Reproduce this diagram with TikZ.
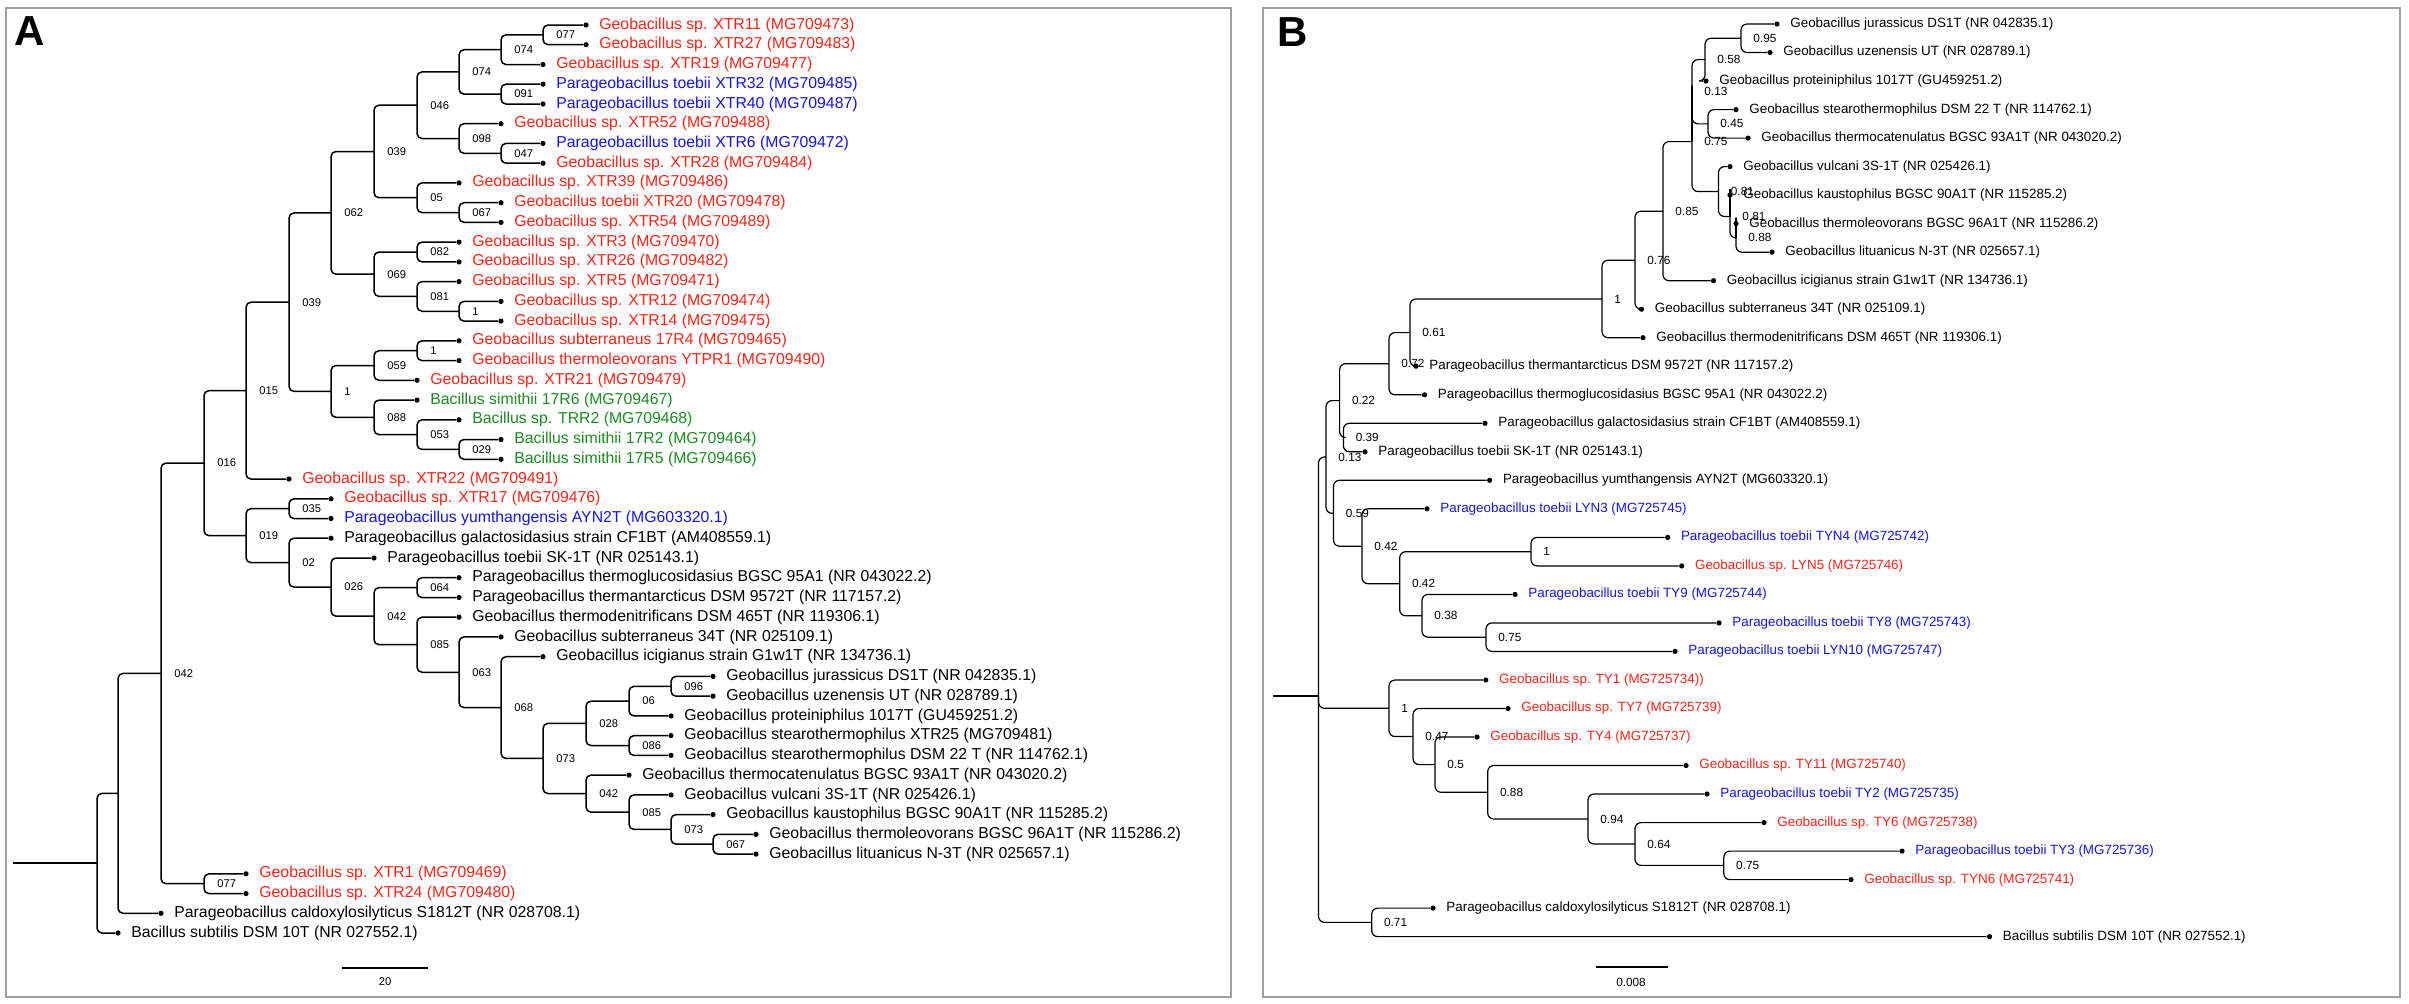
\documentclass[tikz,border=0pt]{standalone}
\usepackage{fontspec}
\setmainfont{Liberation Sans}
\usetikzlibrary{positioning}

\definecolor{geored}{RGB}{255,35,20}
\definecolor{geoblue}{RGB}{20,20,235}
\definecolor{geogreen}{RGB}{25,140,30}

\begin{document}
\begin{tikzpicture}[x=0.5pt, y=-0.5pt,
  frame/.style={draw=gray!75, line width=0.9pt},
  panel/.style={font=\fontsize{21pt}{22pt}\selectfont\bfseries, inner sep=0pt},
  dot/.style={circle, fill=black, inner sep=0pt, minimum size=2.6pt},
  branchA/.style={line width=0.75pt, rounded corners=2.5pt},
  branchB/.style={line width=0.6pt, rounded corners=3pt},
  tipA/.style={font=\fontsize{7.9pt}{9pt}\selectfont, inner sep=0pt},
  supA/.style={font=\fontsize{5.6pt}{6pt}\selectfont, inner sep=0pt},
  tipB/.style={font=\fontsize{6.7pt}{8pt}\selectfont, inner sep=0pt},
  supB/.style={font=\fontsize{5.9pt}{7pt}\selectfont, inner sep=0pt}]
\useasboundingbox (0,0) rectangle (2409,1003);

% Frames and panel letters
\draw[frame] (6,8) rectangle (1231,997);
\draw[frame] (1263,8) rectangle (2400,997);
\node[panel] (lblA) at (30,31) {A};
\node[panel] (lblB) at (1293,32) {B};

% ---------------- Panel A: tips ----------------
\node[dot] (a01) at (586,25.0) {};
\node[tipA, right=5pt of a01, text=geored] (ta01) {Geobacillus sp. XTR11 (MG709473)};
\node[dot] (a02) at (586,44.7) {};
\node[tipA, right=5pt of a02, text=geored] (ta02) {Geobacillus sp. XTR27 (MG709483)};
\node[dot] (a03) at (543,64.5) {};
\node[tipA, right=5pt of a03, text=geored] (ta03) {Geobacillus sp. XTR19 (MG709477)};
\node[dot] (a04) at (543,84.2) {};
\node[tipA, right=5pt of a04, text=geoblue] (ta04) {Parageobacillus toebii XTR32 (MG709485)};
\node[dot] (a05) at (543,104.0) {};
\node[tipA, right=5pt of a05, text=geoblue] (ta05) {Parageobacillus toebii XTR40 (MG709487)};
\node[dot] (a06) at (501,123.7) {};
\node[tipA, right=5pt of a06, text=geored] (ta06) {Geobacillus sp. XTR52 (MG709488)};
\node[dot] (a07) at (543,143.4) {};
\node[tipA, right=5pt of a07, text=geoblue] (ta07) {Parageobacillus toebii XTR6 (MG709472)};
\node[dot] (a08) at (543,163.2) {};
\node[tipA, right=5pt of a08, text=geored] (ta08) {Geobacillus sp. XTR28 (MG709484)};
\node[dot] (a09) at (459,182.9) {};
\node[tipA, right=5pt of a09, text=geored] (ta09) {Geobacillus sp. XTR39 (MG709486)};
\node[dot] (a10) at (501,202.7) {};
\node[tipA, right=5pt of a10, text=geored] (ta10) {Geobacillus toebii XTR20 (MG709478)};
\node[dot] (a11) at (501,222.4) {};
\node[tipA, right=5pt of a11, text=geored] (ta11) {Geobacillus sp. XTR54 (MG709489)};
\node[dot] (a12) at (459,242.1) {};
\node[tipA, right=5pt of a12, text=geored] (ta12) {Geobacillus sp. XTR3 (MG709470)};
\node[dot] (a13) at (459,261.9) {};
\node[tipA, right=5pt of a13, text=geored] (ta13) {Geobacillus sp. XTR26 (MG709482)};
\node[dot] (a14) at (459,281.6) {};
\node[tipA, right=5pt of a14, text=geored] (ta14) {Geobacillus sp. XTR5 (MG709471)};
\node[dot] (a15) at (501,301.4) {};
\node[tipA, right=5pt of a15, text=geored] (ta15) {Geobacillus sp. XTR12 (MG709474)};
\node[dot] (a16) at (501,321.1) {};
\node[tipA, right=5pt of a16, text=geored] (ta16) {Geobacillus sp. XTR14 (MG709475)};
\node[dot] (a17) at (459,340.8) {};
\node[tipA, right=5pt of a17, text=geored] (ta17) {Geobacillus subterraneus 17R4 (MG709465)};
\node[dot] (a18) at (459,360.6) {};
\node[tipA, right=5pt of a18, text=geored] (ta18) {Geobacillus thermoleovorans YTPR1 (MG709490)};
\node[dot] (a19) at (417,380.3) {};
\node[tipA, right=5pt of a19, text=geored] (ta19) {Geobacillus sp. XTR21 (MG709479)};
\node[dot] (a20) at (417,400.1) {};
\node[tipA, right=5pt of a20, text=geogreen] (ta20) {Bacillus simithii 17R6 (MG709467)};
\node[dot] (a21) at (459,419.8) {};
\node[tipA, right=5pt of a21, text=geogreen] (ta21) {Bacillus sp. TRR2 (MG709468)};
\node[dot] (a22) at (501,439.5) {};
\node[tipA, right=5pt of a22, text=geogreen] (ta22) {Bacillus simithii 17R2 (MG709464)};
\node[dot] (a23) at (501,459.3) {};
\node[tipA, right=5pt of a23, text=geogreen] (ta23) {Bacillus simithii 17R5 (MG709466)};
\node[dot] (a24) at (289,479.0) {};
\node[tipA, right=5pt of a24, text=geored] (ta24) {Geobacillus sp. XTR22 (MG709491)};
\node[dot] (a25) at (331,498.8) {};
\node[tipA, right=5pt of a25, text=geored] (ta25) {Geobacillus sp. XTR17 (MG709476)};
\node[dot] (a26) at (331,518.5) {};
\node[tipA, right=5pt of a26, text=geoblue] (ta26) {Parageobacillus yumthangensis AYN2T (MG603320.1)};
\node[dot] (a27) at (331,538.2) {};
\node[tipA, right=5pt of a27] (ta27) {Parageobacillus galactosidasius strain CF1BT (AM408559.1)};
\node[dot] (a28) at (374,558.0) {};
\node[tipA, right=5pt of a28] (ta28) {Parageobacillus toebii SK-1T (NR 025143.1)};
\node[dot] (a29) at (459,577.7) {};
\node[tipA, right=5pt of a29] (ta29) {Parageobacillus thermoglucosidasius BGSC 95A1 (NR 043022.2)};
\node[dot] (a30) at (459,597.5) {};
\node[tipA, right=5pt of a30] (ta30) {Parageobacillus thermantarcticus DSM 9572T (NR 117157.2)};
\node[dot] (a31) at (459,617.2) {};
\node[tipA, right=5pt of a31] (ta31) {Geobacillus thermodenitrificans DSM 465T (NR 119306.1)};
\node[dot] (a32) at (501,636.9) {};
\node[tipA, right=5pt of a32] (ta32) {Geobacillus subterraneus 34T (NR 025109.1)};
\node[dot] (a33) at (543,656.7) {};
\node[tipA, right=5pt of a33] (ta33) {Geobacillus icigianus strain G1w1T (NR 134736.1)};
\node[dot] (a34) at (713,676.4) {};
\node[tipA, right=5pt of a34] (ta34) {Geobacillus jurassicus DS1T (NR 042835.1)};
\node[dot] (a35) at (713,696.2) {};
\node[tipA, right=5pt of a35] (ta35) {Geobacillus uzenensis UT (NR 028789.1)};
\node[dot] (a36) at (671,715.9) {};
\node[tipA, right=5pt of a36] (ta36) {Geobacillus proteiniphilus 1017T (GU459251.2)};
\node[dot] (a37) at (671,735.6) {};
\node[tipA, right=5pt of a37] (ta37) {Geobacillus stearothermophilus XTR25 (MG709481)};
\node[dot] (a38) at (671,755.4) {};
\node[tipA, right=5pt of a38] (ta38) {Geobacillus stearothermophilus DSM 22 T (NR 114762.1)};
\node[dot] (a39) at (629,775.1) {};
\node[tipA, right=5pt of a39] (ta39) {Geobacillus thermocatenulatus BGSC 93A1T (NR 043020.2)};
\node[dot] (a40) at (671,794.9) {};
\node[tipA, right=5pt of a40] (ta40) {Geobacillus vulcani 3S-1T (NR 025426.1)};
\node[dot] (a41) at (713,814.6) {};
\node[tipA, right=5pt of a41] (ta41) {Geobacillus kaustophilus BGSC 90A1T (NR 115285.2)};
\node[dot] (a42) at (756,834.3) {};
\node[tipA, right=5pt of a42] (ta42) {Geobacillus thermoleovorans BGSC 96A1T (NR 115286.2)};
\node[dot] (a43) at (756,854.1) {};
\node[tipA, right=5pt of a43] (ta43) {Geobacillus lituanicus N-3T (NR 025657.1)};
\node[dot] (a44) at (246,873.8) {};
\node[tipA, right=5pt of a44, text=geored] (ta44) {Geobacillus sp. XTR1 (MG709469)};
\node[dot] (a45) at (246,893.6) {};
\node[tipA, right=5pt of a45, text=geored] (ta45) {Geobacillus sp. XTR24 (MG709480)};
\node[dot] (a46) at (161,913.3) {};
\node[tipA, right=5pt of a46] (ta46) {Parageobacillus caldoxylosilyticus S1812T (NR 028708.1)};
\node[dot] (a47) at (118,933.0) {};
\node[tipA, right=5pt of a47] (ta47) {Bacillus subtilis DSM 10T (NR 027552.1)};

% ---------------- Panel A: inner nodes ----------------
\coordinate (a077a) at (543,34.85);
\coordinate (a074a) at (501,49.7);
\coordinate (a091) at (501,94.1);
\coordinate (a074b) at (459,71.9);
\coordinate (a047) at (501,153.3);
\coordinate (a098) at (459,138.5);
\coordinate (a046) at (417,105.2);
\coordinate (a067a) at (459,212.55);
\coordinate (a050) at (417,197.7);
\coordinate (a039a) at (374,151.5);
\coordinate (a082) at (417,252.0);
\coordinate (a1a) at (459,311.25);
\coordinate (a081) at (417,296.4);
\coordinate (a069) at (374,274.2);
\coordinate (a062) at (331,212.9);
\coordinate (a1b) at (417,350.7);
\coordinate (a059) at (374,365.5);
\coordinate (a029) at (459,449.4);
\coordinate (a053) at (417,434.6);
\coordinate (a088) at (374,417.35);
\coordinate (a1c) at (331,391.4);
\coordinate (a039b) at (289,302.2);
\coordinate (a015) at (246,390.6);
\coordinate (a035) at (289,508.65);
\coordinate (a064) at (417,587.6);
\coordinate (a096) at (671,686.3);
\coordinate (a060) at (629,701.1);
\coordinate (a086) at (629,745.5);
\coordinate (a028) at (586,723.3);
\coordinate (a067b) at (713,844.2);
\coordinate (a073a) at (671,829.4);
\coordinate (a085a) at (629,812.15);
\coordinate (a042a) at (586,793.6);
\coordinate (a073b) at (543,758.45);
\coordinate (a068) at (501,707.6);
\coordinate (a063) at (459,672.25);
\coordinate (a085b) at (417,644.7);
\coordinate (a042b) at (374,616.15);
\coordinate (a026) at (331,587.1);
\coordinate (a020) at (289,562.65);
\coordinate (a019) at (246,535.65);
\coordinate (a016) at (204,463.1);
\coordinate (a077b) at (204,883.7);
\coordinate (a042c) at (161,673.4);
\coordinate (aN) at (118,793.35);
\coordinate (aroot) at (97,863.2);
\coordinate (astem) at (13,863.2);

% support values
\node[supA, right=6.5pt of a077a] (sa077a) {077};
\node[supA, right=6.5pt of a074a] (sa074a) {074};
\node[supA, right=6.5pt of a091] (sa091) {091};
\node[supA, right=6.5pt of a074b] (sa074b) {074};
\node[supA, right=6.5pt of a047] (sa047) {047};
\node[supA, right=6.5pt of a098] (sa098) {098};
\node[supA, right=6.5pt of a046] (sa046) {046};
\node[supA, right=6.5pt of a067a] (sa067a) {067};
\node[supA, right=6.5pt of a050] (sa050) {05};
\node[supA, right=6.5pt of a039a] (sa039a) {039};
\node[supA, right=6.5pt of a082] (sa082) {082};
\node[supA, right=6.5pt of a1a] (sa1a) {1};
\node[supA, right=6.5pt of a081] (sa081) {081};
\node[supA, right=6.5pt of a069] (sa069) {069};
\node[supA, right=6.5pt of a062] (sa062) {062};
\node[supA, right=6.5pt of a1b] (sa1b) {1};
\node[supA, right=6.5pt of a059] (sa059) {059};
\node[supA, right=6.5pt of a029] (sa029) {029};
\node[supA, right=6.5pt of a053] (sa053) {053};
\node[supA, right=6.5pt of a088] (sa088) {088};
\node[supA, right=6.5pt of a1c] (sa1c) {1};
\node[supA, right=6.5pt of a039b] (sa039b) {039};
\node[supA, right=6.5pt of a015] (sa015) {015};
\node[supA, right=6.5pt of a035] (sa035) {035};
\node[supA, right=6.5pt of a064] (sa064) {064};
\node[supA, right=6.5pt of a096] (sa096) {096};
\node[supA, right=6.5pt of a060] (sa060) {06};
\node[supA, right=6.5pt of a086] (sa086) {086};
\node[supA, right=6.5pt of a028] (sa028) {028};
\node[supA, right=6.5pt of a067b] (sa067b) {067};
\node[supA, right=6.5pt of a073a] (sa073a) {073};
\node[supA, right=6.5pt of a085a] (sa085a) {085};
\node[supA, right=6.5pt of a042a] (sa042a) {042};
\node[supA, right=6.5pt of a073b] (sa073b) {073};
\node[supA, right=6.5pt of a068] (sa068) {068};
\node[supA, right=6.5pt of a063] (sa063) {063};
\node[supA, right=6.5pt of a085b] (sa085b) {085};
\node[supA, right=6.5pt of a042b] (sa042b) {042};
\node[supA, right=6.5pt of a026] (sa026) {026};
\node[supA, right=6.5pt of a020] (sa020) {02};
\node[supA, right=6.5pt of a019] (sa019) {019};
\node[supA, right=6.5pt of a016] (sa016) {016};
\node[supA, right=6.5pt of a077b] (sa077b) {077};
\node[supA, right=6.5pt of a042c] (sa042c) {042};

% branches
\draw[branchA] (a077a) |- (a01); \draw[branchA] (a077a) |- (a02);
\draw[branchA] (a074a) |- (a077a); \draw[branchA] (a074a) |- (a03);
\draw[branchA] (a091) |- (a04); \draw[branchA] (a091) |- (a05);
\draw[branchA] (a074b) |- (a074a); \draw[branchA] (a074b) |- (a091);
\draw[branchA] (a047) |- (a07); \draw[branchA] (a047) |- (a08);
\draw[branchA] (a098) |- (a06); \draw[branchA] (a098) |- (a047);
\draw[branchA] (a046) |- (a074b); \draw[branchA] (a046) |- (a098);
\draw[branchA] (a067a) |- (a10); \draw[branchA] (a067a) |- (a11);
\draw[branchA] (a050) |- (a09); \draw[branchA] (a050) |- (a067a);
\draw[branchA] (a039a) |- (a046); \draw[branchA] (a039a) |- (a050);
\draw[branchA] (a082) |- (a12); \draw[branchA] (a082) |- (a13);
\draw[branchA] (a1a) |- (a15); \draw[branchA] (a1a) |- (a16);
\draw[branchA] (a081) |- (a14); \draw[branchA] (a081) |- (a1a);
\draw[branchA] (a069) |- (a082); \draw[branchA] (a069) |- (a081);
\draw[branchA] (a062) |- (a039a); \draw[branchA] (a062) |- (a069);
\draw[branchA] (a1b) |- (a17); \draw[branchA] (a1b) |- (a18);
\draw[branchA] (a059) |- (a1b); \draw[branchA] (a059) |- (a19);
\draw[branchA] (a029) |- (a22); \draw[branchA] (a029) |- (a23);
\draw[branchA] (a053) |- (a21); \draw[branchA] (a053) |- (a029);
\draw[branchA] (a088) |- (a20); \draw[branchA] (a088) |- (a053);
\draw[branchA] (a1c) |- (a059); \draw[branchA] (a1c) |- (a088);
\draw[branchA] (a039b) |- (a062); \draw[branchA] (a039b) |- (a1c);
\draw[branchA] (a015) |- (a039b); \draw[branchA] (a015) |- (a24);
\draw[branchA] (a035) |- (a25); \draw[branchA] (a035) |- (a26);
\draw[branchA] (a064) |- (a29); \draw[branchA] (a064) |- (a30);
\draw[branchA] (a096) |- (a34); \draw[branchA] (a096) |- (a35);
\draw[branchA] (a060) |- (a096); \draw[branchA] (a060) |- (a36);
\draw[branchA] (a086) |- (a37); \draw[branchA] (a086) |- (a38);
\draw[branchA] (a028) |- (a060); \draw[branchA] (a028) |- (a086);
\draw[branchA] (a067b) |- (a42); \draw[branchA] (a067b) |- (a43);
\draw[branchA] (a073a) |- (a41); \draw[branchA] (a073a) |- (a067b);
\draw[branchA] (a085a) |- (a40); \draw[branchA] (a085a) |- (a073a);
\draw[branchA] (a042a) |- (a39); \draw[branchA] (a042a) |- (a085a);
\draw[branchA] (a073b) |- (a028); \draw[branchA] (a073b) |- (a042a);
\draw[branchA] (a068) |- (a33); \draw[branchA] (a068) |- (a073b);
\draw[branchA] (a063) |- (a32); \draw[branchA] (a063) |- (a068);
\draw[branchA] (a085b) |- (a31); \draw[branchA] (a085b) |- (a063);
\draw[branchA] (a042b) |- (a064); \draw[branchA] (a042b) |- (a085b);
\draw[branchA] (a026) |- (a28); \draw[branchA] (a026) |- (a042b);
\draw[branchA] (a020) |- (a27); \draw[branchA] (a020) |- (a026);
\draw[branchA] (a019) |- (a035); \draw[branchA] (a019) |- (a020);
\draw[branchA] (a016) |- (a015); \draw[branchA] (a016) |- (a019);
\draw[branchA] (a077b) |- (a44); \draw[branchA] (a077b) |- (a45);
\draw[branchA] (a042c) |- (a016); \draw[branchA] (a042c) |- (a077b);
\draw[branchA] (aN) |- (a042c); \draw[branchA] (aN) |- (a46);
\draw[branchA] (aroot) |- (aN); \draw[branchA] (aroot) |- (a47);
\draw[branchA] (astem) -- (aroot);

% scale bar A
\coordinate (sbA1) at (342,968);
\coordinate (sbA2) at (427.5,968);
\draw[branchA] (sbA1) -- (sbA2);
\node[supA] (sbAl) at (385,982) {20};

% ---------------- Panel B: tips ----------------
\node[dot] (b01) at (1777,24.0) {};
\node[tipB, right=5pt of b01] (tb01) {Geobacillus jurassicus DS1T (NR 042835.1)};
\node[dot] (b02) at (1770,52.5) {};
\node[tipB, right=5pt of b02] (tb02) {Geobacillus uzenensis UT (NR 028789.1)};
\node[dot] (b03) at (1706,81.0) {};
\node[tipB, right=5pt of b03] (tb03) {Geobacillus proteiniphilus 1017T (GU459251.2)};
\node[dot] (b04) at (1736,109.6) {};
\node[tipB, right=5pt of b04] (tb04) {Geobacillus stearothermophilus DSM 22 T (NR 114762.1)};
\node[dot] (b05) at (1748,138.1) {};
\node[tipB, right=5pt of b05] (tb05) {Geobacillus thermocatenulatus BGSC 93A1T (NR 043020.2)};
\node[dot] (b06) at (1730,166.6) {};
\node[tipB, right=5pt of b06] (tb06) {Geobacillus vulcani 3S-1T (NR 025426.1)};
\node[dot] (b07) at (1730,195.1) {};
\node[tipB, right=5pt of b07] (tb07) {Geobacillus kaustophilus BGSC 90A1T (NR 115285.2)};
\node[dot] (b08) at (1736,223.6) {};
\node[tipB, right=5pt of b08] (tb08) {Geobacillus thermoleovorans BGSC 96A1T (NR 115286.2)};
\node[dot] (b09) at (1772,252.2) {};
\node[tipB, right=5pt of b09] (tb09) {Geobacillus lituanicus N-3T (NR 025657.1)};
\node[dot] (b10) at (1713.5,280.7) {};
\node[tipB, right=5pt of b10] (tb10) {Geobacillus icigianus strain G1w1T (NR 134736.1)};
\node[dot] (b11) at (1641.5,309.2) {};
\node[tipB, right=5pt of b11] (tb11) {Geobacillus subterraneus 34T (NR 025109.1)};
\node[dot] (b12) at (1643,337.7) {};
\node[tipB, right=5pt of b12] (tb12) {Geobacillus thermodenitrificans DSM 465T (NR 119306.1)};
\node[dot] (b13) at (1416,366.2) {};
\node[tipB, right=5pt of b13] (tb13) {Parageobacillus thermantarcticus DSM 9572T (NR 117157.2)};
\node[dot] (b14) at (1424.5,394.8) {};
\node[tipB, right=5pt of b14] (tb14) {Parageobacillus thermoglucosidasius BGSC 95A1 (NR 043022.2)};
\node[dot] (b15) at (1485,423.3) {};
\node[tipB, right=5pt of b15] (tb15) {Parageobacillus galactosidasius strain CF1BT (AM408559.1)};
\node[dot] (b16) at (1365,451.8) {};
\node[tipB, right=5pt of b16] (tb16) {Parageobacillus toebii SK-1T (NR 025143.1)};
\node[dot] (b17) at (1489.6,480.3) {};
\node[tipB, right=5pt of b17] (tb17) {Parageobacillus yumthangensis AYN2T (MG603320.1)};
\node[dot] (b18) at (1427,508.8) {};
\node[tipB, right=5pt of b18, text=geoblue] (tb18) {Parageobacillus toebii LYN3 (MG725745)};
\node[dot] (b19) at (1667.6,537.4) {};
\node[tipB, right=5pt of b19, text=geoblue] (tb19) {Parageobacillus toebii TYN4 (MG725742)};
\node[dot] (b20) at (1681.7,565.9) {};
\node[tipB, right=5pt of b20, text=geored] (tb20) {Geobacillus sp. LYN5 (MG725746)};
\node[dot] (b21) at (1515,594.4) {};
\node[tipB, right=5pt of b21, text=geoblue] (tb21) {Parageobacillus toebii TY9 (MG725744)};
\node[dot] (b22) at (1719,622.9) {};
\node[tipB, right=5pt of b22, text=geoblue] (tb22) {Parageobacillus toebii TY8 (MG725743)};
\node[dot] (b23) at (1675,651.4) {};
\node[tipB, right=5pt of b23, text=geoblue] (tb23) {Parageobacillus toebii LYN10 (MG725747)};
\node[dot] (b24) at (1485.8,680.0) {};
\node[tipB, right=5pt of b24, text=geored] (tb24) {Geobacillus sp. TY1 (MG725734))};
\node[dot] (b25) at (1508,708.5) {};
\node[tipB, right=5pt of b25, text=geored] (tb25) {Geobacillus sp. TY7 (MG725739)};
\node[dot] (b26) at (1477,737.0) {};
\node[tipB, right=5pt of b26, text=geored] (tb26) {Geobacillus sp. TY4 (MG725737)};
\node[dot] (b27) at (1686,765.5) {};
\node[tipB, right=5pt of b27, text=geored] (tb27) {Geobacillus sp. TY11 (MG725740)};
\node[dot] (b28) at (1707,794.0) {};
\node[tipB, right=5pt of b28, text=geoblue] (tb28) {Parageobacillus toebii TY2 (MG725735)};
\node[dot] (b29) at (1764,822.6) {};
\node[tipB, right=5pt of b29, text=geored] (tb29) {Geobacillus sp. TY6 (MG725738)};
\node[dot] (b30) at (1902,851.1) {};
\node[tipB, right=5pt of b30, text=geoblue] (tb30) {Parageobacillus toebii TY3 (MG725736)};
\node[dot] (b31) at (1851,879.6) {};
\node[tipB, right=5pt of b31, text=geored] (tb31) {Geobacillus sp. TYN6 (MG725741)};
\node[dot] (b32) at (1433,908.1) {};
\node[tipB, right=5pt of b32] (tb32) {Parageobacillus caldoxylosilyticus S1812T (NR 028708.1)};
\node[dot] (b33) at (1989.5,936.6) {};
\node[tipB, right=5pt of b33] (tb33) {Bacillus subtilis DSM 10T (NR 027552.1)};

% ---------------- Panel B: inner nodes ----------------
\coordinate (b095) at (1741,38.25);
\coordinate (b058) at (1705,59.6);
\coordinate (b045) at (1708,123.85);
\coordinate (b013a) at (1692,91.7);
\coordinate (b088) at (1736,237.9);
\coordinate (b081a) at (1730,216.5);
\coordinate (b081b) at (1718.5,191.55);
\coordinate (b075a) at (1692,141.6);
\coordinate (b085) at (1663,211.15);
\coordinate (b076) at (1635,260.2);
\coordinate (b1a) at (1602,298.95);
\coordinate (b061) at (1410,332.6);
\coordinate (b072) at (1389,363.7);
\coordinate (b039) at (1343.4,437.55);
\coordinate (b022) at (1339.6,400.6);
\coordinate (b1b) at (1531,551.65);
\coordinate (b075b) at (1486,637.15);
\coordinate (b038) at (1422,615.8);
\coordinate (b042a) at (1399.7,583.7);
\coordinate (b042b) at (1362,546.25);
\coordinate (b059) at (1333.5,513.3);
\coordinate (b013b) at (1326,456.95);
\coordinate (b075c) at (1723.8,865.35);
\coordinate (b064) at (1635,844.0);
\coordinate (b094) at (1588,819.0);
\coordinate (b088b) at (1487.7,792.25);
\coordinate (b050) at (1435,764.6);
\coordinate (b047) at (1413,736.55);
\coordinate (b1c) at (1389,708.3);
\coordinate (b071) at (1371.7,922.35);
\coordinate (broot) at (1318.5,695.9);
\coordinate (bstem) at (1272.6,695.9);

% support values
\node[supB, right=6pt of b095] (sb095) {0.95};
\node[supB, right=6pt of b058] (sb058) {0.58};
\node[supB, right=6pt of b045] (sb045) {0.45};
\node[supB, right=6pt of b013a] (sb013a) {0.13};
\node[supB, right=6pt of b088] (sb088) {0.88};
\node[supB, right=6pt of b081a] (sb081a) {0.81};
\node[supB, right=6pt of b081b] (sb081b) {0.81};
\node[supB, right=6pt of b075a] (sb075a) {0.75};
\node[supB, right=6pt of b085] (sb085) {0.85};
\node[supB, right=6pt of b076] (sb076) {0.76};
\node[supB, right=6pt of b1a] (sb1a) {1};
\node[supB, right=6pt of b061] (sb061) {0.61};
\node[supB, right=6pt of b072] (sb072) {0.72};
\node[supB, right=6pt of b039] (sb039) {0.39};
\node[supB, right=6pt of b022] (sb022) {0.22};
\node[supB, right=6pt of b1b] (sb1b) {1};
\node[supB, right=6pt of b075b] (sb075b) {0.75};
\node[supB, right=6pt of b038] (sb038) {0.38};
\node[supB, right=6pt of b042a] (sb042a) {0.42};
\node[supB, right=6pt of b042b] (sb042b) {0.42};
\node[supB, right=6pt of b059] (sb059) {0.59};
\node[supB, right=6pt of b013b] (sb013b) {0.13};
\node[supB, right=6pt of b075c] (sb075c) {0.75};
\node[supB, right=6pt of b064] (sb064) {0.64};
\node[supB, right=6pt of b094] (sb094) {0.94};
\node[supB, right=6pt of b088b] (sb088b) {0.88};
\node[supB, right=6pt of b050] (sb050) {0.5};
\node[supB, right=6pt of b047] (sb047) {0.47};
\node[supB, right=6pt of b1c] (sb1c) {1};
\node[supB, right=6pt of b071] (sb071) {0.71};

% branches
\draw[branchB] (b095) |- (b01); \draw[branchB] (b095) |- (b02);
\draw[branchB] (b058) |- (b095); \draw[branchB] (b058) |- (b03);
\draw[branchB] (b045) |- (b04); \draw[branchB] (b045) |- (b05);
\draw[branchB] (b013a) |- (b058); \draw[branchB] (b013a) |- (b045);
\draw[branchB] (b088) |- (b08); \draw[branchB] (b088) |- (b09);
\draw[branchB] (b081a) |- (b07); \draw[branchB] (b081a) |- (b088);
\draw[branchB] (b081b) |- (b06); \draw[branchB] (b081b) |- (b081a);
\draw[branchB] (b075a) |- (b013a); \draw[branchB] (b075a) |- (b081b);
\draw[branchB] (b085) |- (b075a); \draw[branchB] (b085) |- (b10);
\draw[branchB] (b076) |- (b085); \draw[branchB] (b076) |- (b11);
\draw[branchB] (b1a) |- (b076); \draw[branchB] (b1a) |- (b12);
\draw[branchB] (b061) |- (b1a); \draw[branchB] (b061) |- (b13);
\draw[branchB] (b072) |- (b061); \draw[branchB] (b072) |- (b14);
\draw[branchB] (b039) |- (b15); \draw[branchB] (b039) |- (b16);
\draw[branchB] (b022) |- (b072); \draw[branchB] (b022) |- (b039);
\draw[branchB] (b1b) |- (b19); \draw[branchB] (b1b) |- (b20);
\draw[branchB] (b075b) |- (b22); \draw[branchB] (b075b) |- (b23);
\draw[branchB] (b038) |- (b21); \draw[branchB] (b038) |- (b075b);
\draw[branchB] (b042a) |- (b1b); \draw[branchB] (b042a) |- (b038);
\draw[branchB] (b042b) |- (b18); \draw[branchB] (b042b) |- (b042a);
\draw[branchB] (b059) |- (b17); \draw[branchB] (b059) |- (b042b);
\draw[branchB] (b013b) |- (b022); \draw[branchB] (b013b) |- (b059);
\draw[branchB] (b075c) |- (b30); \draw[branchB] (b075c) |- (b31);
\draw[branchB] (b064) |- (b29); \draw[branchB] (b064) |- (b075c);
\draw[branchB] (b094) |- (b28); \draw[branchB] (b094) |- (b064);
\draw[branchB] (b088b) |- (b27); \draw[branchB] (b088b) |- (b094);
\draw[branchB] (b050) |- (b26); \draw[branchB] (b050) |- (b088b);
\draw[branchB] (b047) |- (b25); \draw[branchB] (b047) |- (b050);
\draw[branchB] (b1c) |- (b24); \draw[branchB] (b1c) |- (b047);
\draw[branchB] (b071) |- (b32); \draw[branchB] (b071) |- (b33);
\draw[branchB] (broot) |- (b013b); \draw[branchB] (broot) |- (b1c);
\draw[branchB] (broot) |- (b071);
\draw[branchB] (bstem) -- (broot);

% scale bar B
\coordinate (sbB1) at (1595.6,967);
\coordinate (sbB2) at (1667.6,967);
\draw[branchB] (sbB1) -- (sbB2);
\node[supB] (sbBl) at (1631,982) {0.008};
\end{tikzpicture}
\end{document}
